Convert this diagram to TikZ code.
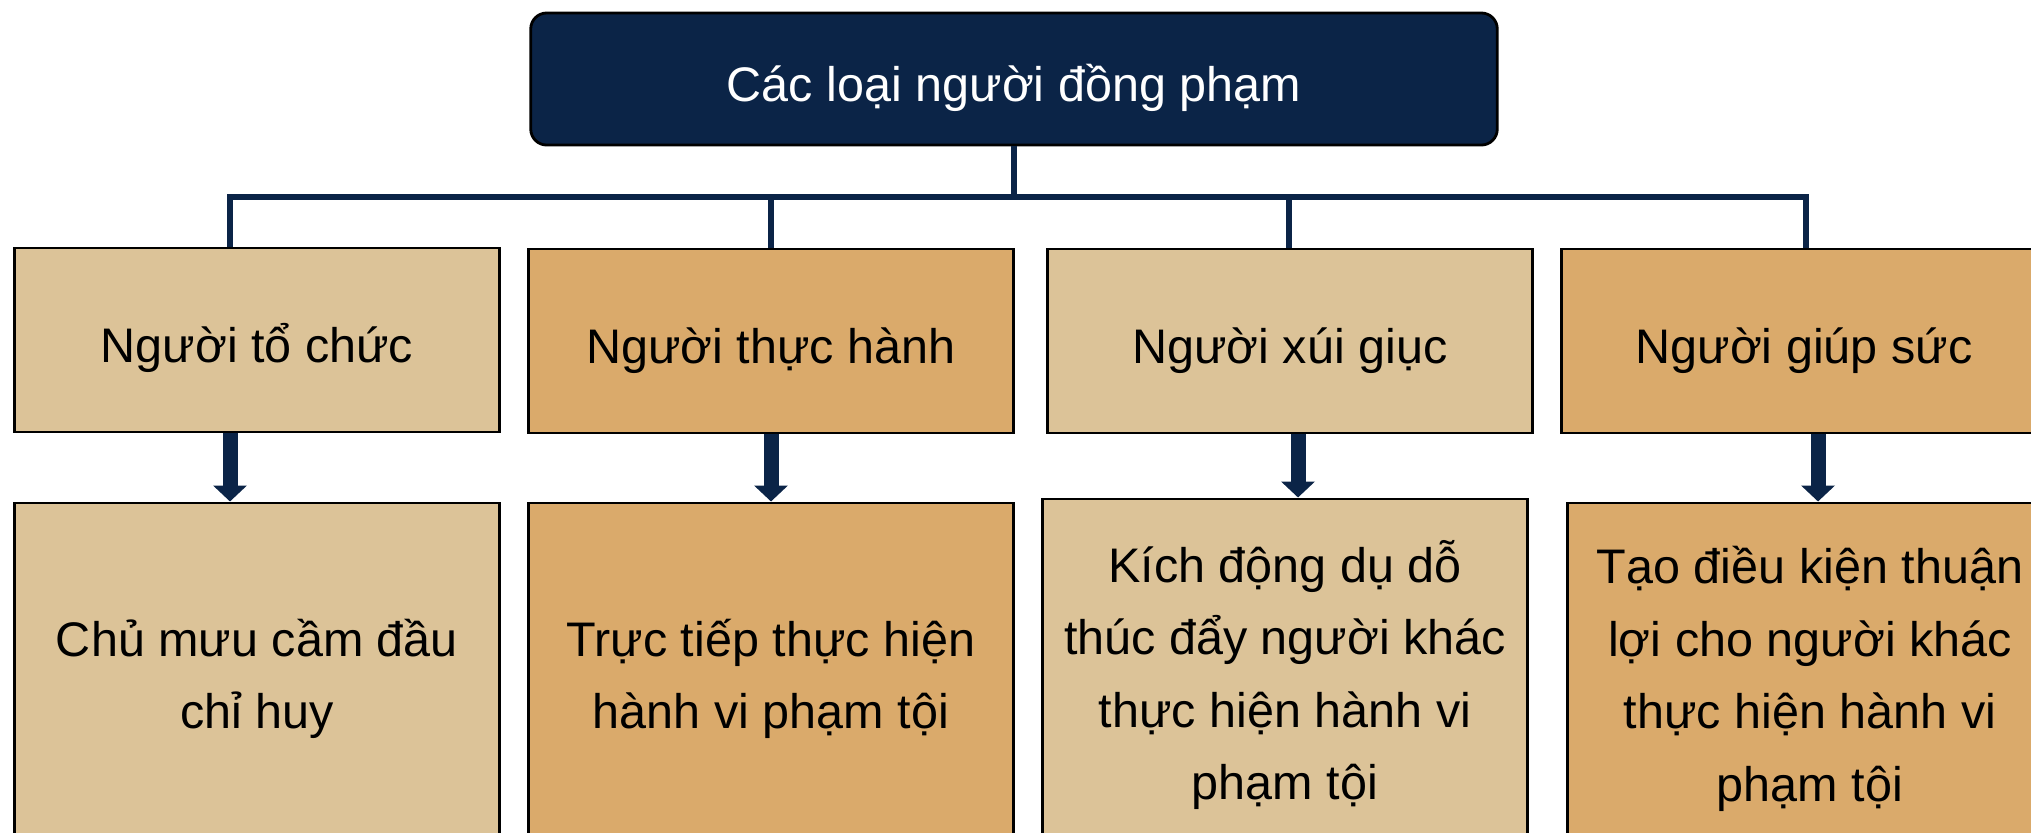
\documentclass[tikz,border=0pt]{standalone}
\usepackage{fontspec}
\setmainfont{Liberation Sans}
\usetikzlibrary{arrows.meta}
\definecolor{navy}{HTML}{0B2447}
\definecolor{tanlight}{HTML}{DCC398}
\definecolor{tandark}{HTML}{DAAA6B}

\begin{document}
\begin{tikzpicture}[x=0.01cm,y=-0.01cm,
    topbox/.style={draw=black,line width=0.8pt,fill=navy,rounded corners=0.16cm,minimum width=9.66cm,minimum height=1.32cm,text height=0.44cm,text depth=0pt,text=white,font=\fontsize{13.8}{16}\selectfont},
    kind/.style={draw=black,line width=0.8pt,minimum width=4.85cm,minimum height=1.84cm,text height=0.44cm,text depth=0pt,font=\fontsize{13.8}{16}\selectfont},
    role/.style={draw=black,line width=0.8pt,minimum width=4.85cm,minimum height=3.52cm,align=center,font=\fontsize{13.8}{20.6}\selectfont},
    bus/.style={draw=navy,line width=1.7pt},
    push/.style={draw=navy,line width=0.15cm,-{Triangle[width=0.33cm,length=0.16cm]}}]
    \useasboundingbox (0,0) rectangle (2031,832);
    \node[topbox] (top) at (1014,79) {Các loại người đồng phạm};
    \node[kind,fill=tanlight] (k1) at (257,340) {Người tổ chức};
    \node[kind,fill=tandark] (k2) at (771,341) {Người thực hành};
    \node[kind,fill=tanlight] (k3) at (1290,341) {Người xúi giục};
    \node[kind,fill=tandark] (k4) at (1804,341) {Người giúp sức};
    \node[role,fill=tanlight] (r1) at (257,679) {Chủ mưu cầm đầu\\chỉ huy};
    \node[role,fill=tandark] (r2) at (771,679) {Trực tiếp thực hiện\\hành vi phạm tội};
    \node[role,fill=tanlight] (r3) at (1285,675) {Kích động dụ dỗ\\thúc đẩy người khác\\thực hiện hành vi\\phạm tội};
    \node[role,fill=tandark] (r4) at (1810,679) {Tạo điều kiện thuận\\lợi cho người khác\\thực hiện hành vi\\phạm tội};
    \coordinate (d1) at (230,197);
    \coordinate (d2) at (771,197);
    \coordinate (d3) at (1289,197);
    \coordinate (d4) at (1806,197);
    \coordinate (a3) at (1298,0);
    \coordinate (a4) at (1818,0);
    \draw[bus] (top.south) -- (top.south |- d1);
    \draw[bus] (k1.north -| d1) -- (d1) -- (d4) -- (k4.north -| d4);
    \draw[bus] (d2) -- (k2.north);
    \draw[bus] (d3) -- (k3.north -| d3);
    \draw[push] (k1.south -| d1) -- (r1.north -| d1);
    \draw[push] (k2.south) -- (r2.north);
    \draw[push] (k3.south -| a3) -- (r3.north -| a3);
    \draw[push] (k4.south -| a4) -- (r4.north -| a4);
\end{tikzpicture}
\end{document}
